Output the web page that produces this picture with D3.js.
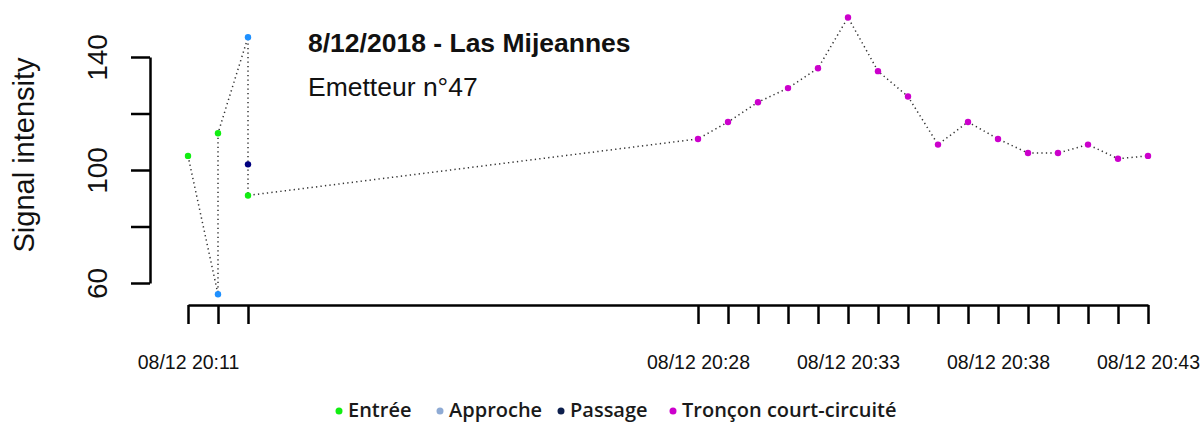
<!DOCTYPE html>
<html>
<head>
<meta charset="utf-8">
<script src="https://cdn.jsdelivr.net/npm/d3@7"></script>
<style>
  body { margin: 0; background: #fff; }
  svg { display: block; font-family: "Liberation Sans", Arial, sans-serif; }
</style>
</head>
<body>
<svg id="chart" width="1204" height="423"></svg>
<script>
// detections, in time order (8/12/2018)
const times = ["20:11", "20:12", "20:12", "20:13", "20:13", "20:13",
  "20:28", "20:29", "20:30", "20:31", "20:32", "20:33", "20:34", "20:35",
  "20:36", "20:37", "20:38", "20:39", "20:40", "20:41", "20:42", "20:43"];
const values = [105, 56, 113, 147, 102, 91,
  111, 117, 124, 129, 136, 154, 135, 126, 109, 117, 111, 106, 106, 109, 104, 105];
const zones = ["Entrée", "Approche", "Entrée", "Approche", "Passage", "Entrée",
  "Tronçon court-circuité", "Tronçon court-circuité", "Tronçon court-circuité", "Tronçon court-circuité",
  "Tronçon court-circuité", "Tronçon court-circuité", "Tronçon court-circuité", "Tronçon court-circuité",
  "Tronçon court-circuité", "Tronçon court-circuité", "Tronçon court-circuité", "Tronçon court-circuité",
  "Tronçon court-circuité", "Tronçon court-circuité", "Tronçon court-circuité", "Tronçon court-circuité"];

const zoneNames = ["Entrée", "Approche", "Passage", "Tronçon court-circuité"];
const zoneColors = ["#11ee11", "#1e90ff", "#000080", "#cc00cc"];
const legendColors = ["#11ee11", "#8eaad4", "#0d1f4d", "#cc00cc"];

const xLabels = ["20:11", "20:28", "20:33", "20:38", "20:43"];
const yTicks = [60, 80, 100, 120, 140];
const yLabels = [60, 100, 140];

const title = "8/12/2018 - Las Mijeannes";
const subtitle = "Emetteur n°47";
const yTitle = "Signal intensity";

const toDate = t => {
  const [h, m] = t.split(":").map(Number);
  return new Date(2018, 11, 8, h, m);
};
const fmt = d3.timeFormat("%d/%m %H:%M");

const svg = d3.select("#chart");

const x = d3.scaleTime()
  .domain([toDate("20:11"), toDate("20:43")])
  .range([188, 1148]);
const y = d3.scaleLinear()
  .domain([60, 140])
  .range([283, 57]);
const color = d3.scaleOrdinal().domain(zoneNames).range(zoneColors);

// x axis
const tickDates = Array.from(new Set(times)).map(toDate);
const xAxis = d3.axisBottom(x)
  .tickValues(tickDates)
  .tickSize(19)
  .tickSizeOuter(0)
  .tickPadding(31)
  .tickFormat(d => xLabels.includes(d3.timeFormat("%H:%M")(d)) ? fmt(d) : "");
const gx = svg.append("g").attr("transform", "translate(0,305)").call(xAxis);
gx.select(".domain").attr("stroke-width", 2.5);
gx.selectAll(".tick line").attr("stroke-width", 2.5);
gx.selectAll(".tick text").attr("font-size", 19.5).attr("fill", "#111")
  .attr("font-family", "Liberation Sans, Arial, sans-serif");

// y axis
const yAxis = d3.axisLeft(y)
  .tickValues(yTicks)
  .tickSize(19)
  .tickSizeOuter(0)
  .tickFormat(d => yLabels.includes(d) ? d : "");
const gy = svg.append("g").attr("transform", "translate(150,0)").call(yAxis);
gy.select(".domain").attr("stroke-width", 2.5);
gy.selectAll(".tick line").attr("stroke-width", 2.5);
gy.selectAll(".tick text")
  .attr("font-size", 28)
  .attr("fill", "#111")
  .attr("font-family", "Liberation Sans, Arial, sans-serif")
  .attr("text-anchor", "middle")
  .attr("x", null).attr("dy", null)
  .attr("transform", "translate(-43,0) rotate(-90)");

svg.append("text")
  .attr("transform", "translate(34,155) rotate(-90)")
  .attr("text-anchor", "middle")
  .attr("font-size", 29)
  .attr("fill", "#111")
  .text(yTitle);

// dotted connecting line
const line = d3.line()
  .x((d, i) => x(toDate(times[i])))
  .y(d => y(d));
svg.append("path")
  .datum(values)
  .attr("d", line)
  .attr("fill", "none")
  .attr("stroke", "#333")
  .attr("stroke-width", 1.5)
  .attr("stroke-dasharray", "1.3,3.2");

// points
svg.append("g").selectAll("circle")
  .data(values)
  .join("circle")
  .attr("cx", (d, i) => x(toDate(times[i])))
  .attr("cy", d => y(d))
  .attr("r", 3.2)
  .attr("fill", (d, i) => color(zones[i]));

// titles
svg.append("text").attr("x", 308).attr("y", 52)
  .attr("font-size", 26.5).attr("font-weight", "bold").attr("fill", "#111")
  .text(title);
svg.append("text").attr("x", 308).attr("y", 96)
  .attr("font-size", 26.5).attr("fill", "#111")
  .text(subtitle);

// legend
const legendX = [339, 440, 561, 673];
const lg = svg.append("g").attr("font-family", "Open Sans, Noto Sans, sans-serif");
zoneNames.forEach((name, i) => {
  lg.append("circle")
    .attr("cx", legendX[i]).attr("cy", 411).attr("r", 3.5)
    .attr("fill", legendColors[i]);
  lg.append("text")
    .attr("x", legendX[i] + 9).attr("y", 416.5)
    .attr("font-size", 20).attr("font-weight", 600).attr("fill", "#1a1a1a")
    .text(name);
});
</script>
</body>
</html>
